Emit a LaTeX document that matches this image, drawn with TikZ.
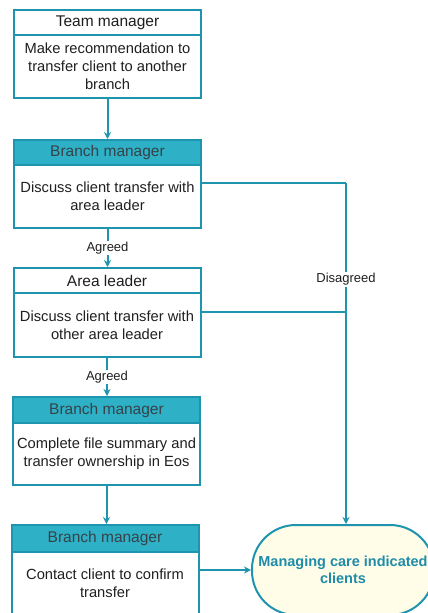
\documentclass[tikz,border=0pt]{standalone}
\usepackage{fontspec}
\setmainfont{Liberation Sans}
\usetikzlibrary{arrows.meta,calc}
\definecolor{tline}{RGB}{30,148,175}
\definecolor{thead}{RGB}{46,176,198}
\definecolor{hdtext}{RGB}{55,66,72}
\definecolor{mtext}{RGB}{30,140,170}
\definecolor{mfill}{RGB}{255,253,232}
\tikzset{
  hdr/.style={draw=tline,line width=2pt,minimum width=187pt,inner sep=0pt,font=\fontsize{15.5}{18}\selectfont,text=black!88},
  hdrfill/.style={hdr,fill=thead,text=hdtext},
  bodybox/.style={draw=tline,line width=2pt,minimum width=187pt,inner sep=0pt,align=center,font=\fontsize{14.7}{18}\selectfont,text=black!88},
  conn/.style={draw=tline,line width=2pt},
  arr/.style={conn,-{Stealth[length=7pt,width=7pt]}},
  lbl/.style={fill=white,inner sep=1pt,font=\fontsize{13}{15}\selectfont,text=black!88},
}
\begin{document}
\begin{tikzpicture}[x=1pt,y=-1pt]
\clip (0,0) rectangle (428,613);
\fill[white] (0,0) rectangle (428,613);
% Box 1
\node[hdr,minimum height=25pt] (h1) at (107.5,22.5) {Team manager};
\node[bodybox,minimum height=63pt] (b1) at (107.5,66.5) {Make recommendation to\\transfer client to another\\branch};
% Box 2
\node[hdrfill,minimum height=25pt] (h2) at (107.5,152.5) {Branch manager};
\node[bodybox,minimum height=63pt] (b2) at (107.5,196.5) {Discuss client transfer with\\area leader};
% Box 3
\node[hdr,minimum height=25pt] (h3) at (107,280.5) {Area leader};
\node[bodybox,minimum height=64pt] (b3) at (107,325) {Discuss client transfer with\\other area leader};
% Box 4
\node[hdrfill,minimum height=26pt] (h4) at (106.5,410) {Branch manager};
\node[bodybox,minimum height=62pt] (b4) at (106.5,454) {Complete file summary and\\transfer ownership in Eos};
% Box 5
\node[hdrfill,minimum height=27pt] (h5) at (105,538.5) {Branch manager};
\node[bodybox,minimum height=63pt] (b5) at (105,583.5) {Contact client to confirm\\transfer};
% Terminal
\node[draw=tline,line width=2pt,fill=mfill,rounded corners=44pt,minimum width=182pt,minimum height=90pt,inner sep=0pt,align=center,font=\fontsize{14.5}{17}\selectfont\bfseries,text=mtext] (m) at (343,570) {Managing care indicated\\clients};
% connectors
\draw[arr] (b1.south) -- (b1.south |- h2.north);
\draw[arr] (b2.south) -- node[lbl] (ag1) {Agreed} (b2.south |- h3.north);
\draw[arr] (b3.south) -- node[lbl] (ag2) {Agreed} (b3.south |- h4.north);
\draw[arr] (b4.south) -- (b4.south |- h5.north);
\coordinate (j1) at (346,183);
\coordinate (j2) at (346,312);
\draw[conn] (j1 -| b2.east) -- (j1);
\draw[conn] (j2 -| b3.east) -- (j2);
\draw[arr] (j1) -- node[lbl,pos=0.283] (dis) {Disagreed} (j1 |- m.north);
\draw[arr] (m.west -| b5.east) -- (m.west);
\end{tikzpicture}
\end{document}
